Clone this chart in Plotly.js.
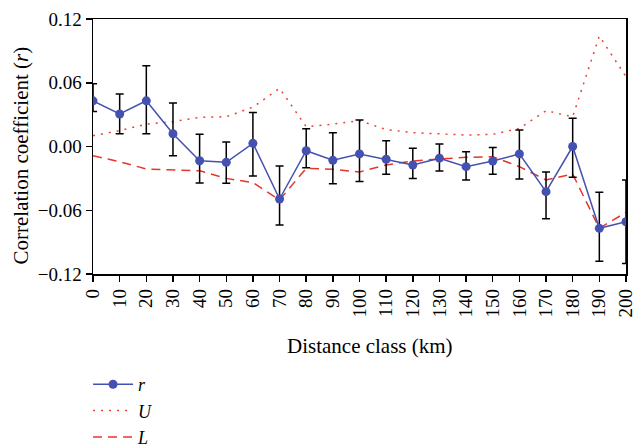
<!DOCTYPE html>
<html>
<head>
<meta charset="utf-8">
<script src="https://cdn.plot.ly/plotly-3.0.1.min.js"></script>
<style>html,body{margin:0;padding:0;background:#fff;}#chart{width:636px;height:448px;}</style>
</head>
<body>
<div id="chart"></div>
<script>
var distance = [0,10,20,30,40,50,60,70,80,90,100,110,120,130,140,150,160,170,180,190,200];
var tickLabels = ["0","10","20","30","40","50","60","70","80","90","100","110","120","130","140","150","160","170","180","190","200"];
var rValues = [0.043,0.0306,0.043,0.012,-0.0134,-0.0149,0.003,-0.0494,-0.004,-0.013,-0.007,-0.012,-0.0174,-0.011,-0.019,-0.0137,-0.007,-0.0425,0.0,-0.077,-0.0708];
var rUpper  = [0.059,0.0494,0.076,0.041,0.0115,0.0042,0.032,-0.0184,0.0168,0.013,0.025,0.0055,-0.0017,0.0024,-0.0049,-0.001,0.0155,-0.024,0.0265,-0.043,-0.0315];
var rLower  = [0.033,0.012,0.012,-0.0087,-0.0344,-0.0347,-0.0278,-0.0739,-0.020,-0.035,-0.033,-0.026,-0.030,-0.023,-0.0315,-0.026,-0.0306,-0.068,-0.029,-0.108,-0.110];
var uValues = [0.0102,0.015,0.021,0.0234,0.0275,0.028,0.037,0.0548,0.0186,0.021,0.0243,0.016,0.013,0.0118,0.0108,0.0115,0.017,0.0337,0.028,0.104,0.0657];
var lValues = [-0.0087,-0.0143,-0.0212,-0.022,-0.0228,-0.030,-0.034,-0.0503,-0.0205,-0.0215,-0.024,-0.0174,-0.0137,-0.0118,-0.0102,-0.0096,-0.019,-0.0315,-0.026,-0.077,-0.062];

var errPlus = rValues.map(function(v,i){return rUpper[i]-v;});
var errMinus = rValues.map(function(v,i){return v-rLower[i];});

var fam = '"Liberation Serif", "Times New Roman", serif';
var tickFont = {family: fam, size: 19, color: '#000'};
var titleFont = {family: fam, size: 21, color: '#000'};
var legendFont = {family: fam, size: 18, color: '#000'};

var traces = [
  {x: distance, y: uValues, name: '<i>U</i>', mode: 'lines', type: 'scatter', legendrank: 2,
   line: {color: '#ec4038', width: 1.5, dash: '2px,6px'}},
  {x: distance, y: lValues, name: '<i>L</i>', mode: 'lines', type: 'scatter', legendrank: 3,
   line: {color: '#e8352c', width: 1.5, dash: '9px,6px'}},
  {x: distance, y: rValues, name: '<i>r</i>', mode: 'lines+markers', type: 'scatter', legendrank: 1,
   line: {color: '#4451b0', width: 1.5},
   marker: {color: '#4451b0', size: 9},
   error_y: {type: 'data', symmetric: false, array: errPlus, arrayminus: errMinus,
             color: '#000', thickness: 1.5, width: 4}}
];

var layout = {
  width: 636, height: 448,
  margin: {l: 93, r: 10, t: 19, b: 174, autoexpand: false},
  paper_bgcolor: '#fff', plot_bgcolor: '#fff',
  font: tickFont,
  showlegend: true,
  legend: {x: -0.0093, y: -0.3608, xanchor: 'left', yanchor: 'top', traceorder: 'normal',
           font: legendFont, bgcolor: 'rgba(0,0,0,0)', itemwidth: 40},
  xaxis: {range: [-0.01, 200.01], tickmode: 'array', tickvals: distance, ticktext: tickLabels,
          tickangle: -90, ticks: 'outside', ticklen: 6, tickwidth: 1.5, tickcolor: '#000',
          ticklabeloverflow: 'allow',
          showline: true, linecolor: '#000', linewidth: 1.5, mirror: true,
          showgrid: false, zeroline: false, tickfont: tickFont},
  xaxis2: {range: [-0.01, 200.01], overlaying: 'x', anchor: 'free', position: 0.5,
           tickmode: 'array', tickvals: distance, showticklabels: false,
           ticks: 'outside', ticklen: 10, tickwidth: 1.5, tickcolor: '#000',
           showline: true, linecolor: '#000', linewidth: 1.5, showgrid: false, zeroline: false},
  yaxis: {range: [-0.12, 0.12], tickmode: 'array', tickvals: [-0.12,-0.06,0,0.06,0.12],
          tickformat: '.2f', ticks: 'outside', ticklen: 6, tickwidth: 1.5, tickcolor: '#000',
          showline: true, linecolor: '#000', linewidth: 1.5, mirror: true,
          showgrid: false, zeroline: false, tickfont: tickFont},
  annotations: [
    {text: 'Distance class (km)', xref: 'paper', yref: 'paper', x: 0.519, y: -0.282,
     xanchor: 'center', yanchor: 'middle', showarrow: false, font: titleFont},
    {text: 'Correlation coefficient (<i>r</i>)', xref: 'paper', yref: 'paper', x: -0.1351, y: 0.4647,
     xanchor: 'center', yanchor: 'middle', textangle: -90, showarrow: false, font: titleFont}
  ]
};

Plotly.newPlot('chart', traces, layout, {staticPlot: true});
</script>
</body>
</html>
